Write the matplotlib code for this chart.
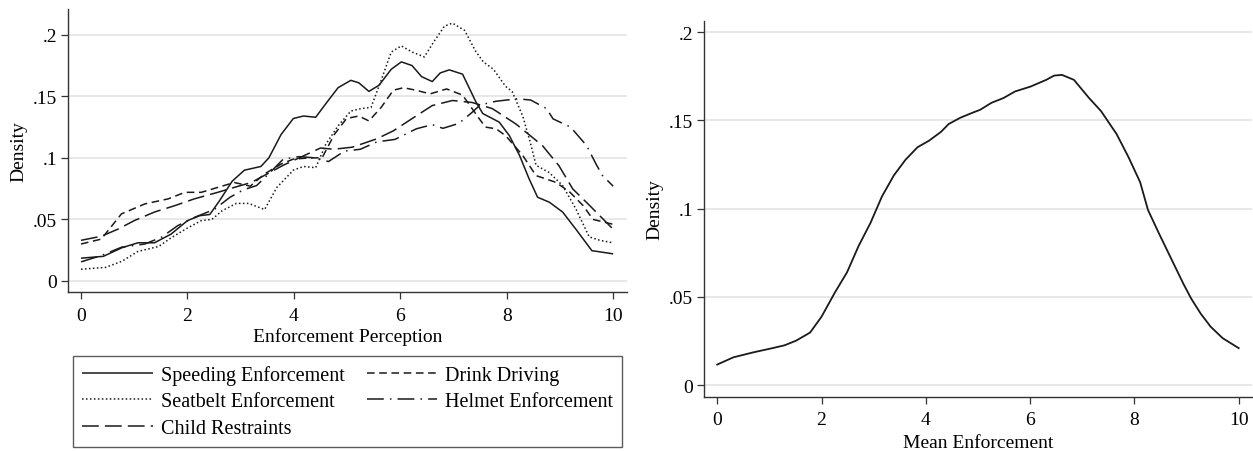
import matplotlib
matplotlib.use('Agg')
import matplotlib.pyplot as plt
from matplotlib.ticker import FixedLocator

plt.rcParams['font.family'] = 'Liberation Serif'
plt.rcParams['font.size'] = 14

# kernel density readings, enforcement perception by type (0-10 scale)
speed_x = [0, 0.42, 0.77, 1.07, 1.38, 1.69, 2.0, 2.23, 2.42, 2.6, 2.84, 3.07, 3.38, 3.53, 3.76,
           3.99, 4.18, 4.41, 4.6, 4.83, 5.07, 5.22, 5.41, 5.6, 5.83, 6.02, 6.22, 6.4, 6.6, 6.75,
           6.92, 7.17, 7.42, 7.55, 7.86, 8.05, 8.24, 8.42, 8.58, 8.8, 9.05, 9.3, 9.6, 10]
speed_y = [0.0185, 0.020, 0.027, 0.031, 0.031, 0.038, 0.049, 0.053, 0.054, 0.065, 0.081, 0.090,
           0.093, 0.100, 0.119, 0.132, 0.134, 0.133, 0.144, 0.157, 0.163, 0.161, 0.154, 0.159,
           0.172, 0.178, 0.175, 0.166, 0.162, 0.169, 0.1715, 0.168, 0.1455, 0.136, 0.129, 0.118,
           0.102, 0.083, 0.068, 0.064, 0.056, 0.042, 0.0246, 0.022]

drink_x = [0, 0.38, 0.76, 1.2, 1.64, 1.95, 2.26, 2.57, 2.88, 3.18, 3.45, 3.76, 3.99, 4.3, 4.53,
           4.76, 4.99, 5.22, 5.41, 5.64, 5.87, 6.06, 6.29, 6.56, 6.87, 7.17, 7.48, 7.6, 7.8, 7.98,
           8.3, 8.55, 8.73, 8.93, 9.19, 9.44, 9.62, 10]
drink_y = [0.030, 0.034, 0.0545, 0.0626, 0.0667, 0.072, 0.072, 0.076, 0.080, 0.077, 0.087, 0.095,
           0.099, 0.100, 0.100, 0.119, 0.132, 0.134, 0.130, 0.141, 0.155, 0.157, 0.155, 0.152,
           0.156, 0.151, 0.132, 0.125, 0.1236, 0.118, 0.102, 0.0856, 0.083, 0.080, 0.072, 0.061,
           0.050, 0.046]

belt_x = [0, 0.46, 0.77, 1.07, 1.46, 1.69, 2.0, 2.26, 2.46, 2.65, 2.92, 3.15, 3.45, 3.68, 3.99,
          4.18, 4.41, 4.6, 4.83, 5.07, 5.26, 5.45, 5.64, 5.83, 6.02, 6.22, 6.45, 6.64, 6.83, 6.98,
          7.21, 7.41, 7.56, 7.75, 7.98, 8.1, 8.3, 8.44, 8.55, 8.8, 9.05, 9.3, 9.55, 9.75, 10]
belt_y = [0.0095, 0.011, 0.016, 0.024, 0.028, 0.035, 0.043, 0.049, 0.050, 0.057, 0.063, 0.063,
          0.058, 0.076, 0.090, 0.093, 0.092, 0.111, 0.126, 0.138, 0.140, 0.141, 0.163, 0.186,
          0.191, 0.186, 0.182, 0.195, 0.207, 0.2095, 0.2035, 0.187, 0.178, 0.172, 0.158, 0.154,
          0.134, 0.113, 0.094, 0.088, 0.0775, 0.0585, 0.0358, 0.033, 0.031]

helmet_x = [0, 0.38, 0.76, 1.2, 1.51, 1.82, 2.14, 2.5, 2.8, 3.05, 3.3, 3.55, 3.8, 4.1, 4.4, 4.65,
            4.95, 5.25, 5.56, 5.9, 6.3, 6.6, 6.8, 7.1, 7.35, 7.5, 7.8, 8.2, 8.45, 8.75, 8.87, 9.2,
            9.5, 9.69, 9.8, 10]
helmet_y = [0.0155, 0.0206, 0.0274, 0.030, 0.0355, 0.045, 0.0518, 0.058, 0.068, 0.074, 0.0775,
            0.088, 0.099, 0.101, 0.100, 0.097, 0.1055, 0.107, 0.113, 0.115, 0.1236, 0.127, 0.124,
            0.128, 0.137, 0.143, 0.146, 0.148, 0.147, 0.140, 0.1317, 0.125, 0.110, 0.094, 0.0856,
            0.077]

child_x = [0, 0.38, 0.69, 1.0, 1.38, 1.75, 2.13, 2.57, 2.88, 3.2, 3.5, 3.8, 4.1, 4.5, 4.75, 5.1,
           5.56, 5.87, 6.26, 6.6, 6.98, 7.35, 7.73, 8.17, 8.67, 8.98, 9.24, 9.56, 10]
child_y = [0.033, 0.0363, 0.042, 0.049, 0.056, 0.061, 0.0667, 0.072, 0.076, 0.080, 0.087, 0.094,
           0.100, 0.108, 0.107, 0.1087, 0.1155, 0.122, 0.133, 0.1425, 0.1466, 0.145, 0.140,
           0.1276, 0.110, 0.0937, 0.0748, 0.0612, 0.042]

# density of the mean enforcement score
mean_x = [0, 0.31, 0.69, 1.06, 1.29, 1.51, 1.78, 2.0, 2.26, 2.49, 2.71, 2.94, 3.16, 3.39, 3.61,
          3.84, 4.06, 4.29, 4.44, 4.66, 4.89, 5.04, 5.26, 5.49, 5.71, 6.01, 6.31, 6.46, 6.61, 6.84,
          7.13, 7.36, 7.66, 7.89, 8.11, 8.26, 8.48, 8.71, 8.94, 9.09, 9.27, 9.46, 9.69, 10]
mean_y = [0.0117, 0.0158, 0.0186, 0.021, 0.0226, 0.0252, 0.0298, 0.0388, 0.0527, 0.064, 0.0788,
          0.092, 0.107, 0.119, 0.1277, 0.1348, 0.1385, 0.1435, 0.148, 0.1515, 0.1543, 0.156, 0.160,
          0.1627, 0.1664, 0.1692, 0.173, 0.1754, 0.1758, 0.173, 0.1627, 0.1553, 0.1422, 0.129,
          0.115, 0.0993, 0.0854, 0.0714, 0.0574, 0.049, 0.0406, 0.0332, 0.0267, 0.021]

xticks = [0, 2, 4, 6, 8, 10]
yticks = [0, 0.05, 0.1, 0.15, 0.2]
ylabels = ['0', '.05', '.1', '.15', '.2']

series = [
    ('Speeding Enforcement', speed_x, speed_y, (0, ())),
    ('Drink Driving', drink_x, drink_y, (0, (5, 3))),
    ('Seatbelt Enforcement', belt_x, belt_y, (0, (1, 1.6))),
    ('Helmet Enforcement', helmet_x, helmet_y, (0, (11, 4, 1, 4))),
    ('Child Restraints', child_x, child_y, (0, (11, 4))),
]

ink = '#1a1a1a'
fig = plt.figure(figsize=(12.53, 4.52), dpi=100)


def style_axes(ax, xpad):
    for s in ['top', 'right']:
        ax.spines[s].set_visible(False)
    for s in ['left', 'bottom']:
        ax.spines[s].set_color('#333333')
        ax.spines[s].set_linewidth(1.0)
    ax.set_xticks(xticks)
    ax.yaxis.set_major_locator(FixedLocator(yticks))
    ax.set_yticklabels(ylabels)
    ax.tick_params(direction='out', length=5, width=0.9, color='#333333', labelsize=14, pad=3)
    ax.tick_params(axis='x', pad=xpad)
    for y in yticks:
        ax.axhline(y, color='#e8e8e8', lw=1.4, zorder=0)
    ax.set_ylabel('Density', fontsize=14, labelpad=4)


ax1 = fig.add_axes([0.0543, 0.352, 0.4461, 0.626])
for name, xs, ys, ls in series:
    ax1.plot(xs, ys, color=ink, lw=1.1, linestyle=ls, label=name)
ax1.set_xlim(-0.244, 10.26)
ax1.set_ylim(-0.0089, 0.221)
style_axes(ax1, 6)
ax1.set_xlabel('Enforcement Perception', fontsize=14, labelpad=2)

# two columns filled row by row
h, l = ax1.get_legend_handles_labels()
order = [0, 2, 4, 1, 3]
leg = fig.legend([h[i] for i in order], [l[i] for i in order], ncol=2,
                 loc='upper left', bbox_to_anchor=(0.0583, 0.21),
                 fontsize=14.5, frameon=True, fancybox=False, handlelength=3.5,
                 handletextpad=0.4, columnspacing=1.1, labelspacing=0.36,
                 borderpad=0.45, borderaxespad=0)
leg.get_frame().set_edgecolor('#333333')
leg.get_frame().set_linewidth(1.0)

ax2 = fig.add_axes([0.562, 0.119, 0.437, 0.833])
ax2.plot(mean_x, mean_y, color=ink, lw=1.3)
ax2.set_xlim(-0.25, 10.25)
ax2.set_ylim(-0.0068, 0.2065)
style_axes(ax2, 5)
ax2.set_xlabel('Mean Enforcement', fontsize=14, labelpad=4)

fig.savefig('out.png', dpi=100, facecolor='white')
